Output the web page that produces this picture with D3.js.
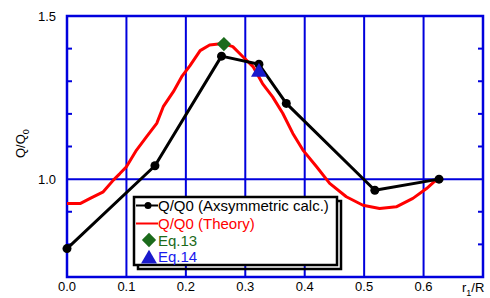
<!DOCTYPE html>
<html>
<head>
<meta charset="utf-8">
<script src="https://cdn.jsdelivr.net/npm/d3@7"></script>
<style>
  body { margin: 0; background: #fff; }
  text { font-family: "Liberation Sans", Arial, sans-serif; }
</style>
</head>
<body>
<svg id="chart"></svg>
<script>
// axisymmetric calculation
const calcX = [0.0, 0.148, 0.26, 0.323, 0.369, 0.518, 0.626];
const calcY = [0.787, 1.041, 1.377, 1.352, 1.232, 0.966, 1.0];

// theory curve
const theoryX = [0.0, 0.022, 0.039, 0.061, 0.078, 0.089, 0.1, 0.117, 0.134, 0.151, 0.162, 0.179,
  0.193, 0.207, 0.224, 0.24, 0.262, 0.279, 0.296, 0.313, 0.329, 0.346, 0.363, 0.38, 0.397,
  0.42, 0.442, 0.47, 0.498, 0.526, 0.554, 0.582, 0.605, 0.618, 0.626];
const theoryY = [0.925, 0.925, 0.941, 0.961, 0.997, 1.017, 1.038, 1.089, 1.13, 1.171, 1.222, 1.268,
  1.314, 1.348, 1.394, 1.411, 1.416, 1.406, 1.375, 1.345, 1.293, 1.252, 1.202, 1.14, 1.089,
  1.038, 0.987, 0.946, 0.92, 0.91, 0.915, 0.941, 0.971, 0.992, 1.0];

const eq13 = [0.264, 1.414];
const eq14 = [0.323, 1.328];

const xTicks = [0.0, 0.1, 0.2, 0.3, 0.4, 0.5, 0.6];
const xGrid = [0.1, 0.2, 0.3, 0.4, 0.5, 0.6];
const yLabels = [1.0, 1.5];
const yMinor = [0.8, 0.9, 1.1, 1.2, 1.3, 1.4];

const W = 490, H = 298;
const blue = '#0000dd';
const svg = d3.select('#chart').attr('width', W).attr('height', H);

const x = d3.scaleLinear().domain([0, 0.7]).range([67, 483]);
const y = d3.scaleLinear().domain([0.7, 1.5]).range([277, 16]);

// grid
svg.selectAll('.vgrid').data(xGrid).join('line')
  .attr('x1', d => x(d)).attr('x2', d => x(d))
  .attr('y1', y(1.5)).attr('y2', y(0.7))
  .attr('stroke', blue).attr('stroke-width', 2);
svg.append('line')
  .attr('x1', x(0)).attr('x2', x(0.7))
  .attr('y1', y(1.0)).attr('y2', y(1.0))
  .attr('stroke', blue).attr('stroke-width', 2);

// minor ticks on both sides
yMinor.forEach(v => {
  svg.append('line').attr('x1', x(0)).attr('x2', x(0) + 5)
    .attr('y1', y(v)).attr('y2', y(v)).attr('stroke', blue).attr('stroke-width', 2);
  svg.append('line').attr('x1', x(0.7) - 5).attr('x2', x(0.7))
    .attr('y1', y(v)).attr('y2', y(v)).attr('stroke', blue).attr('stroke-width', 2);
});

// frame
svg.append('rect')
  .attr('x', x(0)).attr('y', y(1.5))
  .attr('width', x(0.7) - x(0)).attr('height', y(0.7) - y(1.5))
  .attr('fill', 'none').attr('stroke', blue).attr('stroke-width', 2.5);

// tick labels
svg.selectAll('.xlab').data(xTicks).join('text')
  .attr('x', d => x(d)).attr('y', 291)
  .attr('text-anchor', 'middle').attr('font-size', 13)
  .text(d => d.toFixed(1));
svg.selectAll('.ylab').data(yLabels).join('text')
  .attr('x', 56).attr('y', d => y(d) + 5)
  .attr('text-anchor', 'end').attr('font-size', 13)
  .text(d => d.toFixed(1));

// axis titles
const xt = svg.append('text').attr('x', 462).attr('y', 292).attr('font-size', 13);
xt.append('tspan').text('r');
xt.append('tspan').attr('font-size', 9).attr('dy', 4).text('1');
xt.append('tspan').attr('dy', -4).text('/R');

const yt = svg.append('text').attr('transform', 'translate(25,158) rotate(-90)').attr('font-size', 13);
yt.append('tspan').text('Q/Q');
yt.append('tspan').attr('font-size', 9).attr('dy', 4).text('0');

// theory line
const theory = theoryX.map((d, i) => [d, theoryY[i]]);
const line = d3.line().x(d => x(d[0])).y(d => y(d[1]));
svg.append('path').datum(theory).attr('d', line)
  .attr('fill', 'none').attr('stroke', '#ff0000').attr('stroke-width', 3)
  .attr('stroke-linejoin', 'round');

// calc line
const calc = calcX.map((d, i) => [d, calcY[i]]);
svg.append('path').datum(calc).attr('d', line)
  .attr('fill', 'none').attr('stroke', '#000').attr('stroke-width', 3)
  .attr('stroke-linejoin', 'round');
svg.selectAll('.pt').data(calc).join('circle')
  .attr('cx', d => x(d[0])).attr('cy', d => y(d[1])).attr('r', 4.5)
  .attr('fill', '#000');

const diamond = d3.symbol().type(d3.symbolDiamond2).size(130);
const tri = d3.symbol().type(d3.symbolTriangle).size(110);
const green = '#1b6b1b', triBlue = '#1a1acc';

svg.append('path').attr('d', diamond)
  .attr('transform', `translate(${x(eq13[0])},${y(eq13[1])})`).attr('fill', green);
svg.append('path').attr('d', tri)
  .attr('transform', `translate(${x(eq14[0])},${y(eq14[1])})`).attr('fill', triBlue);

// legend
const lg = { x: 134, y: 197, w: 203, h: 68 };
svg.append('rect').attr('x', lg.x + 4).attr('y', lg.y + 4).attr('width', lg.w).attr('height', lg.h)
  .attr('fill', 'none').attr('stroke', '#000').attr('stroke-width', 2.5);
svg.append('rect').attr('x', lg.x).attr('y', lg.y).attr('width', lg.w).attr('height', lg.h)
  .attr('fill', '#fff').attr('stroke', '#000').attr('stroke-width', 2.5);

const rows = [
  { label: 'Q/Q0 (Axsymmetric calc.)', color: '#000', kind: 'calc', cy: 205.5 },
  { label: 'Q/Q0 (Theory)', color: '#ff0000', kind: 'theory', cy: 223.5 },
  { label: 'Eq.13', color: green, kind: 'eq13', cy: 240 },
  { label: 'Eq.14', color: '#1a1aee', kind: 'eq14', cy: 256 }
];
rows.forEach(r => {
  if (r.kind === 'calc' || r.kind === 'theory') {
    svg.append('line').attr('x1', 136).attr('x2', 158).attr('y1', r.cy).attr('y2', r.cy)
      .attr('stroke', r.color).attr('stroke-width', 2);
    if (r.kind === 'calc') svg.append('circle').attr('cx', 148).attr('cy', r.cy).attr('r', 3.5).attr('fill', '#000');
  } else if (r.kind === 'eq13') {
    svg.append('path').attr('d', diamond).attr('transform', `translate(149,${r.cy})`).attr('fill', green);
  } else {
    svg.append('path').attr('d', tri).attr('transform', `translate(149,${r.cy + 3})`).attr('fill', triBlue);
  }
  svg.append('text').attr('x', 158).attr('y', r.cy + 5.5).attr('font-size', 15)
    .attr('fill', r.color).text(r.label);
});
</script>
</body>
</html>
